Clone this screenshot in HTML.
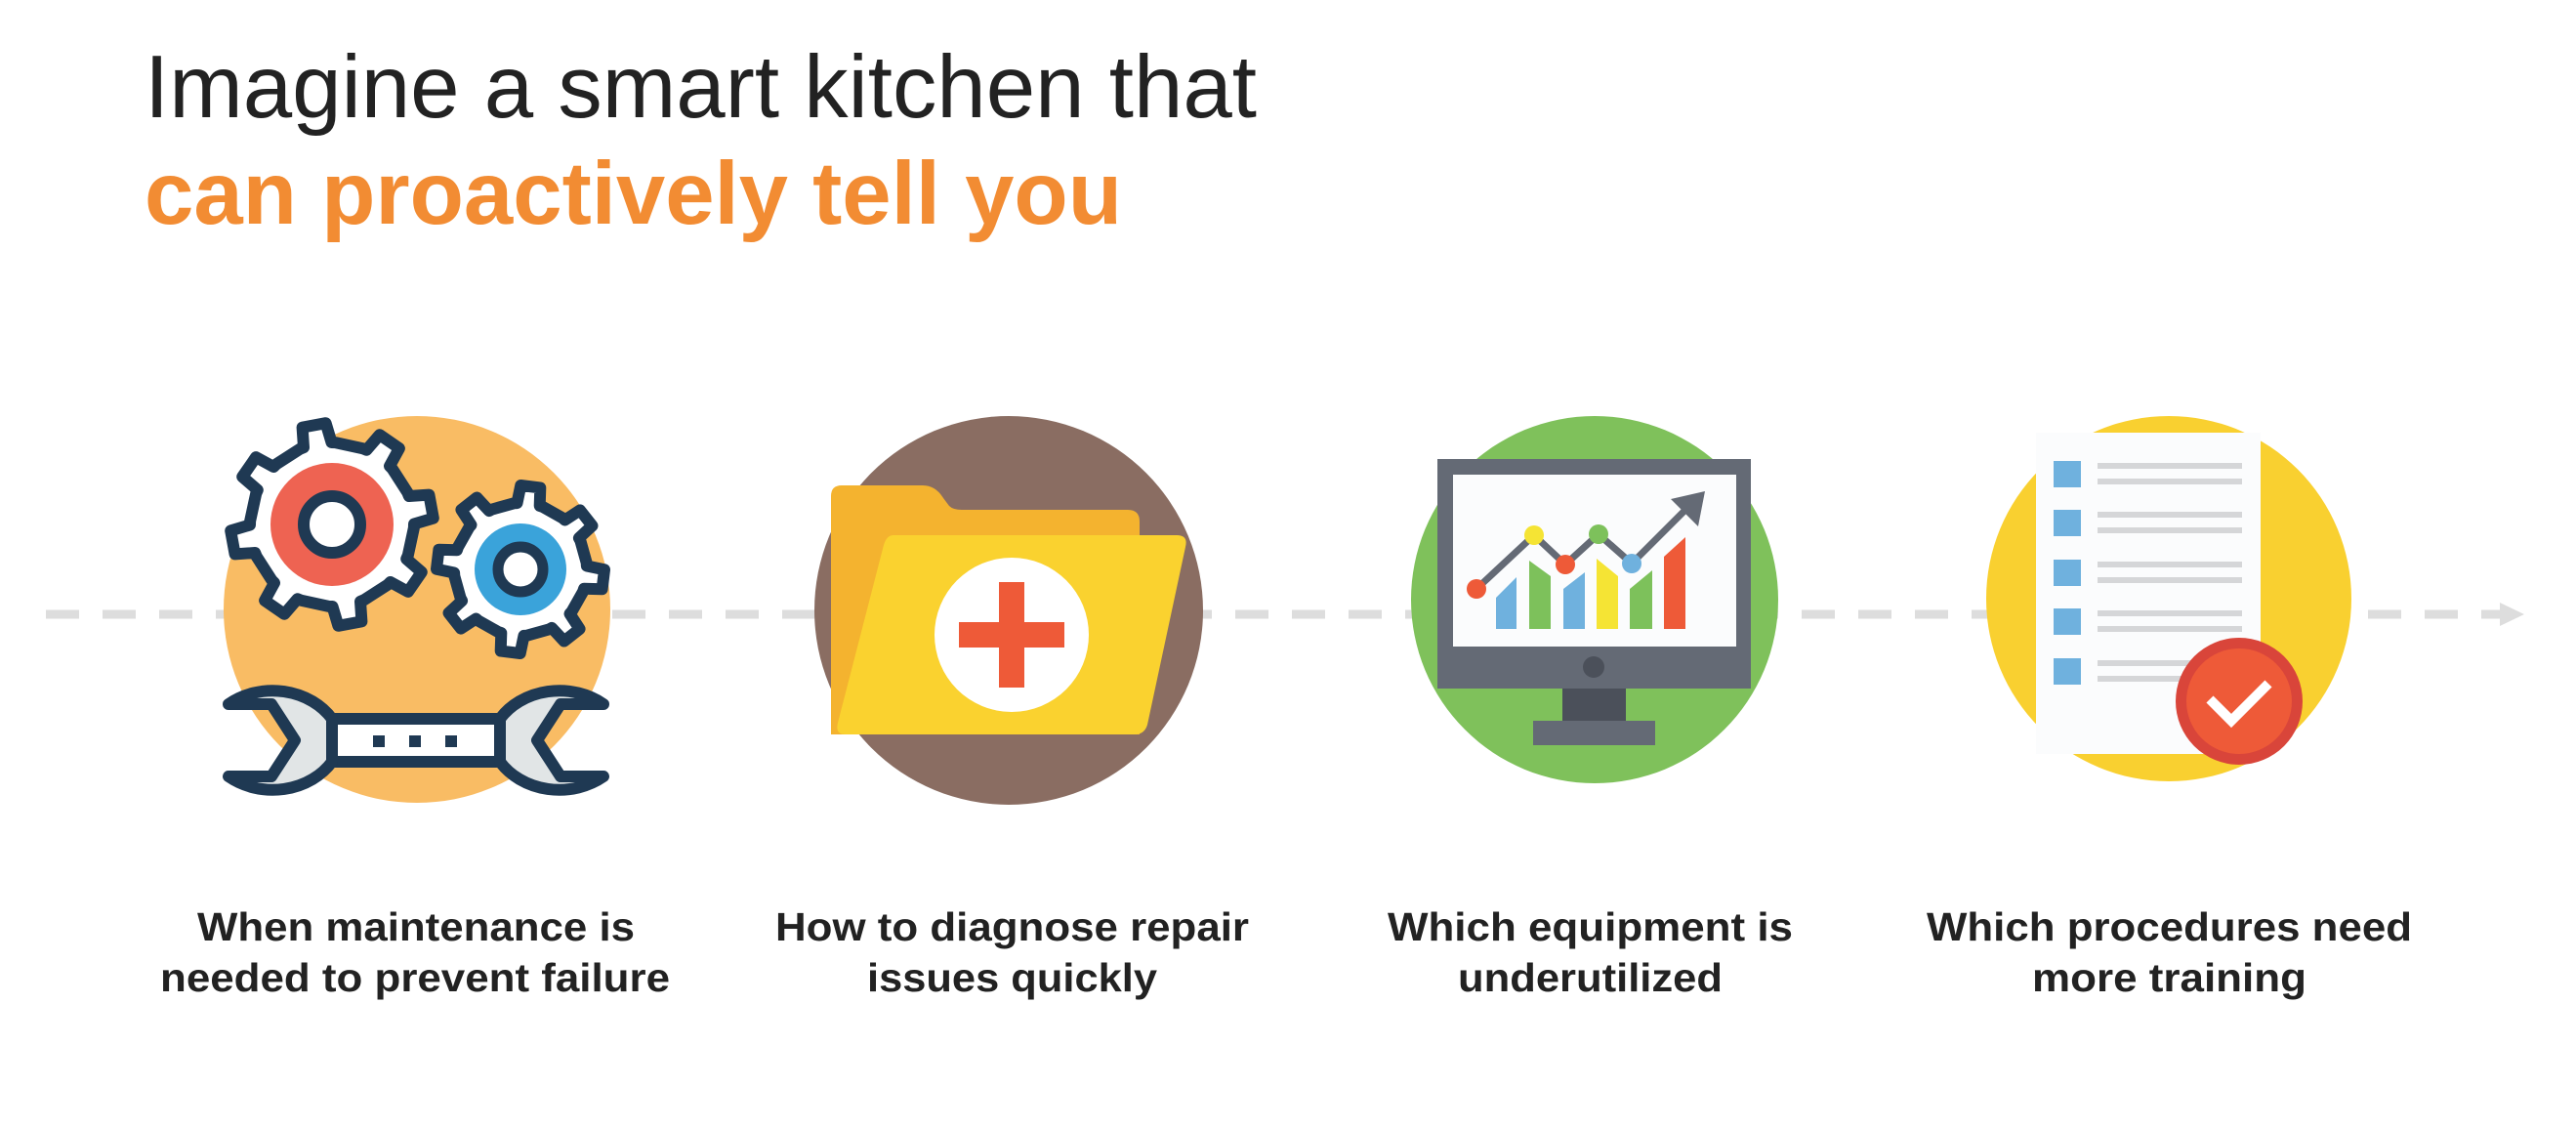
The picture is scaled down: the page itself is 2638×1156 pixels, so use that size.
<!DOCTYPE html>
<html><head><meta charset="utf-8"><style>
html,body{margin:0;padding:0;background:#fff;}
svg{display:block;}
</style></head><body>
<svg width="2638" height="1156" viewBox="0 0 2638 1156" xmlns="http://www.w3.org/2000/svg">
<rect width="2638" height="1156" fill="#fff"/>
<text x="148" y="120" font-family="Liberation Sans, sans-serif" font-size="91" fill="#222" textLength="1139" lengthAdjust="spacingAndGlyphs">Imagine a smart kitchen that</text>
<text x="148" y="229" font-family="Liberation Sans, sans-serif" font-size="91" font-weight="bold" fill="#F28C33" textLength="1001" lengthAdjust="spacingAndGlyphs">can proactively tell you</text>

<line x1="47" y1="629" x2="2565" y2="629" stroke="#DDDDDD" stroke-width="9" stroke-dasharray="34 24"/>
<polygon points="2560,617 2585,629 2560,641" fill="#DDDDDD"/>

<!-- circles -->
<circle cx="427" cy="624" r="198" fill="#F9BC64"/>
<circle cx="1033" cy="625" r="199" fill="#8A6D62"/>
<circle cx="1633" cy="614" r="188" fill="#7FC15B"/>
<circle cx="2221" cy="613" r="187" fill="#F9D030"/>

<!-- gears -->
<path id="g1" fill="#fff" stroke="#1F3953" stroke-width="12" stroke-linejoin="round"/>
<path id="g2" fill="#fff" stroke="#1F3953" stroke-width="12" stroke-linejoin="round"/>
<circle cx="340" cy="537" r="63" fill="#EE6352"/>
<circle cx="340" cy="537" r="29" fill="#fff" stroke="#1F3953" stroke-width="12"/>
<circle cx="533" cy="583" r="47" fill="#3AA3DA"/>
<circle cx="533" cy="583" r="23" fill="#fff" stroke="#1F3953" stroke-width="11"/>

<!-- wrench -->
<rect x="335" y="736" width="182" height="44" fill="#fff"/>
<line x1="335" y1="736" x2="517" y2="736" stroke="#1F3953" stroke-width="12"/>
<line x1="335" y1="780" x2="517" y2="780" stroke="#1F3953" stroke-width="12"/>
<rect x="382" y="753" width="12" height="12" fill="#1F3953"/>
<rect x="419" y="753" width="12" height="12" fill="#1F3953"/>
<rect x="456" y="753" width="12" height="12" fill="#1F3953"/>
<path d="M234,721 A 72 62 0 0 1 340,736 L 340,780 A 72 62 0 0 1 234,795 L 278,795 L 302,758 L 278,721 Z" fill="#E1E5E6" stroke="#1F3953" stroke-width="12" stroke-linejoin="round"/>
<path d="M618,721 A 72 62 0 0 0 512,736 L 512,780 A 72 62 0 0 0 618,795 L 574,795 L 550,758 L 574,721 Z" fill="#E1E5E6" stroke="#1F3953" stroke-width="12" stroke-linejoin="round"/>

<!-- folder -->
<path d="M862,497 L945,497 Q958,497 966,510 L972,518 Q976,522 985,522 L1155,522 Q1167,522 1167,534 L1167,752 L851,752 L851,508 Q851,497 862,497 Z" fill="#F4B32F"/>
<path d="M915,548 L1205,548 Q1217,548 1214,560 L1175,742 Q1172,752 1162,752 L866,752 Q855,752 858,740 L905,558 Q908,548 915,548 Z" fill="#FAD22F"/>
<circle cx="1036" cy="650" r="79" fill="#fff"/>
<rect x="1023" y="596" width="26" height="108" fill="#EE5A38"/>
<rect x="982" y="637" width="108" height="26" fill="#EE5A38"/>

<!-- monitor -->
<rect x="1472" y="470" width="321" height="235" fill="#646A75"/>
<rect x="1488" y="486" width="290" height="176" fill="#FBFCFD"/>
<circle cx="1632" cy="683" r="11" fill="#4B505A"/>
<rect x="1600" y="705" width="65" height="34" fill="#4B505A"/>
<rect x="1570" y="738" width="125" height="25" fill="#646A75"/>
<polygon points="1532,612 1553,591 1553,644 1532,644" fill="#6FB1DE"/>
<polygon points="1566,574 1588,590 1588,644 1566,644" fill="#7DC15B"/>
<polygon points="1601,603 1623,586 1623,644 1601,644" fill="#6FB1DE"/>
<polygon points="1635,572 1657,590 1657,644 1635,644" fill="#F5E434"/>
<polygon points="1669,603 1692,584 1692,644 1669,644" fill="#7DC15B"/>
<polygon points="1704,570 1726,550 1726,644 1704,644" fill="#EE5A38"/>
<polyline points="1512,603 1571,548 1603,578 1637,547 1671,577 1733,515" fill="none" stroke="#646A75" stroke-width="7"/>
<polygon points="1746,503 1711,511 1739,539" fill="#646A75"/>
<circle cx="1512" cy="603" r="10" fill="#EE5A38"/>
<circle cx="1571" cy="548" r="10" fill="#F5E434"/>
<circle cx="1603" cy="578" r="10" fill="#EE5A38"/>
<circle cx="1637" cy="547" r="10" fill="#7DC15B"/>
<circle cx="1671" cy="577" r="10" fill="#6FB1DE"/>

<!-- document -->
<rect x="2085" y="443" width="230" height="329" fill="#FBFCFD"/>
<g fill="#6FB1DE">
<rect x="2103" y="472" width="28" height="27"/>
<rect x="2103" y="522" width="28" height="27"/>
<rect x="2103" y="573" width="28" height="27"/>
<rect x="2103" y="623" width="28" height="27"/>
<rect x="2103" y="674" width="28" height="27"/>
</g>
<g fill="#D5D6D8">
<rect x="2148" y="474" width="148" height="6"/><rect x="2148" y="490" width="148" height="6"/>
<rect x="2148" y="524" width="148" height="6"/><rect x="2148" y="540" width="148" height="6"/>
<rect x="2148" y="575" width="148" height="6"/><rect x="2148" y="591" width="148" height="6"/>
<rect x="2148" y="625" width="148" height="6"/><rect x="2148" y="641" width="148" height="6"/>
<rect x="2148" y="676" width="148" height="6"/><rect x="2148" y="692" width="148" height="6"/>
</g>
<circle cx="2293" cy="718" r="65" fill="#D9453A"/>
<circle cx="2293" cy="718" r="54" fill="#EE5A38"/>
<polyline points="2263,716 2285,738 2323,700" fill="none" stroke="#fff" stroke-width="10"/>

<!-- labels -->
<g font-family="Liberation Sans, sans-serif" font-weight="bold" font-size="41" fill="#222">
<text x="202" y="963" textLength="448" lengthAdjust="spacingAndGlyphs">When maintenance is</text>
<text x="164" y="1015" textLength="522" lengthAdjust="spacingAndGlyphs">needed to prevent failure</text>
<text x="794" y="963" textLength="485" lengthAdjust="spacingAndGlyphs">How to diagnose repair</text>
<text x="888" y="1015" textLength="297" lengthAdjust="spacingAndGlyphs">issues quickly</text>
<text x="1421" y="963" textLength="415" lengthAdjust="spacingAndGlyphs">Which equipment is</text>
<text x="1493" y="1015" textLength="271" lengthAdjust="spacingAndGlyphs">underutilized</text>
<text x="1973" y="963" textLength="497" lengthAdjust="spacingAndGlyphs">Which procedures need</text>
<text x="2081" y="1015" textLength="281" lengthAdjust="spacingAndGlyphs">more training</text>
</g>
</svg>
<script>
function gear(cx,cy,rt,rr,n,rot){
  var pts=[],step=2*Math.PI/n;
  for(var i=0;i<n;i++){
    var a=rot+i*step;
    var w1=step*0.22,w2=step*0.15;
    pts.push([a-w1-step*0.06,rr],[a-w1,rr],[a-w2,rt],[a+w2,rt],[a+w1,rr],[a+w1+step*0.06,rr]);
  }
  var d='';
  for(var j=0;j<pts.length;j++){
    var p=pts[j];d+=(j?'L':'M')+(cx+p[1]*Math.cos(p[0])).toFixed(1)+','+(cy+p[1]*Math.sin(p[0])).toFixed(1);
  }
  return d+'Z';
}
document.getElementById('g1').setAttribute('d',gear(340,537,104,84,8,-1.75));
document.getElementById('g2').setAttribute('d',gear(533,583,86,68,8,-1.45));
</script>
</body></html>
